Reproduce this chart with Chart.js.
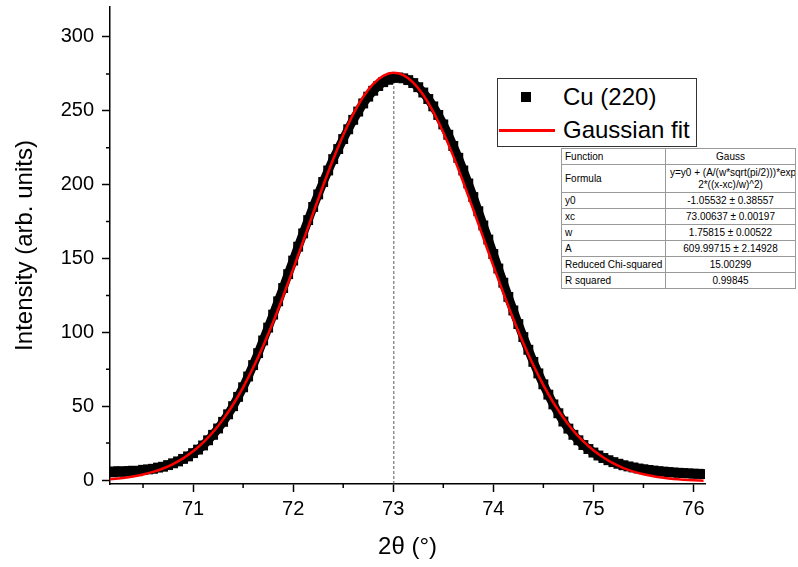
<!DOCTYPE html>
<html>
<head>
<meta charset="utf-8">
<script src="https://cdn.jsdelivr.net/npm/chart.js@4.4.0/dist/chart.umd.min.js"></script>
<style>
  body { margin: 0; background: #fff; }
  #wrap { position: relative; width: 798px; height: 567px; font-family: "Liberation Sans", Arial, sans-serif; }
  #legendBox { position: absolute; left: 497px; top: 78px; width: 200px; height: 69px; box-sizing: border-box; border: 1px solid #333; background: #fff; }
  #legendBox .txt { position: absolute; left: 65px; font-size: 24px; line-height: 28px; color: #000; white-space: nowrap; }
  #dataSwatch { position: absolute; left: 23px; top: 13px; width: 10px; height: 10px; }
  #fitSwatch { position: absolute; left: 1px; top: 50px; width: 56px; height: 2.5px; }
  #fitTable { position: absolute; left: 561px; top: 148px; width: 234px; border-collapse: collapse; font-size: 10px; color: #000; background: #fff; table-layout: fixed; border: 1px solid #333; }
  #fitTable td { border: 1px solid #9a9a9a; padding: 0 3px; height: 15px; line-height: 12px; overflow: hidden; white-space: nowrap; }
  #fitTable td.val { text-align: center; }
  #fitTable tr.tall td { height: 27px; }
  #fitTable td .l1 { display: block; text-align: left; padding-left: 1px; }
  #fitTable td .l2 { display: block; text-align: center; }
</style>
</head>
<body>
<div id="wrap">
  <canvas id="myChart" width="798" height="567"></canvas>
  <div id="legendBox">
    <span id="dataSwatch"></span><span class="txt" style="top:4px">Cu (220)</span>
    <span id="fitSwatch"></span><span class="txt" style="top:37px">Gaussian fit</span>
  </div>
  <table id="fitTable"></table>
</div>
<script>
// measured XRD points, Cu (220) reflection
const twoTheta = [70.15, 70.2, 70.25, 70.3, 70.35, 70.4, 70.45, 70.5, 70.55, 70.6, 70.65, 70.7, 70.75, 70.8, 70.85, 70.9, 70.95,
  71, 71.05, 71.1, 71.15, 71.2, 71.25, 71.3, 71.35, 71.4, 71.45, 71.5, 71.55, 71.6, 71.65, 71.7, 71.75, 71.8, 71.85, 71.9, 71.95,
  72, 72.05, 72.1, 72.15, 72.2, 72.25, 72.3, 72.35, 72.4, 72.45, 72.5, 72.55, 72.6, 72.65, 72.7, 72.75, 72.8, 72.85, 72.9, 72.95,
  73, 73.05, 73.1, 73.15, 73.2, 73.25, 73.3, 73.35, 73.4, 73.45, 73.5, 73.55, 73.6, 73.65, 73.7, 73.75, 73.8, 73.85, 73.9, 73.95,
  74, 74.05, 74.1, 74.15, 74.2, 74.25, 74.3, 74.35, 74.4, 74.45, 74.5, 74.55, 74.6, 74.65, 74.7, 74.75, 74.8, 74.85, 74.9, 74.95,
  75, 75.05, 75.1, 75.15, 75.2, 75.25, 75.3, 75.35, 75.4, 75.45, 75.5, 75.55, 75.6, 75.65, 75.7, 75.75, 75.8, 75.85, 75.9, 75.95,
  76, 76.05, 76.1]
const cuIntensity = [5.8, 5.2, 6.0, 5.5, 6.1, 6.3, 6.0, 6.9, 7.2, 7.6, 8.4, 9.0, 10.1, 11.3, 12.6, 14.3, 16.0,
  18.2, 20.6, 23.4, 26.9, 30.6, 34.9, 39.4, 44.5, 50.0, 56.3, 62.8, 70.1, 77.8, 85.9, 94.5, 103.2, 112.0, 121.0, 130.0, 139.4,
  148.6, 158.0, 167.0, 176.0, 184.9, 193.4, 201.8, 209.6, 217.3, 224.1, 230.9, 237.5, 243.9, 249.5, 255.0, 259.6, 263.6, 266.8, 269.4, 271.0,
  272.3, 272.6, 272.0, 270.8, 268.8, 266.0, 262.4, 258.0, 253.0, 247.2, 240.8, 233.8, 226.2, 218.2, 209.6, 200.8, 191.6, 182.0, 172.4, 162.8,
  153.0, 143.2, 133.6, 124.0, 114.8, 105.6, 96.8, 88.2, 80.0, 72.2, 64.8, 57.8, 51.2, 45.2, 39.6, 34.8, 30.6, 26.9, 23.7, 21.0,
  18.6, 16.6, 14.9, 13.4, 12.1, 11.0, 10.0, 9.2, 8.5, 7.8, 7.3, 6.8, 6.4, 6.0, 5.7, 5.4, 5.1, 4.9, 4.7, 4.5,
  4.3, 4.2, 4.0]

// gaussian fit curve
const fitTwoTheta = [70.1, 70.2, 70.3, 70.4, 70.5, 70.6, 70.7, 70.8, 70.9, 71, 71.1, 71.2, 71.3, 71.4, 71.5, 71.6, 71.7, 71.8, 71.9,
  72, 72.1, 72.2, 72.3, 72.4, 72.5, 72.6, 72.7, 72.8, 72.9, 73, 73.1, 73.2, 73.3, 73.4, 73.5, 73.6, 73.7, 73.8, 73.9,
  74, 74.1, 74.2, 74.3, 74.4, 74.5, 74.6, 74.7, 74.8, 74.9, 75, 75.1, 75.2, 75.3, 75.4, 75.5, 75.6, 75.7, 75.8, 75.9, 76, 76.1]
const fitIntensity = [0.12, 0.64, 1.37, 2.37, 3.71, 5.49, 7.82, 10.83, 14.64, 19.44, 25.33, 32.49, 41.07, 51.12, 62.75, 75.98, 90.76, 106.96, 124.4,
  142.8, 161.7, 180.8, 199.4, 217.2, 233.5, 247.8, 259.5, 268.2, 273.7, 275.7, 274.2, 269.1, 260.7, 249.3, 235.3, 219.3, 201.6, 183.0, 164.0,
  145.0, 126.6, 109.0, 92.6, 77.7, 64.2, 52.4, 42.2, 33.4, 26.1, 20.1, 15.2, 11.2, 8.1, 5.7, 3.9, 2.5, 1.5, 0.7, 0.17, -0.22, -0.49]

// dashed marker at the peak centre
const peakLineX = [73.006, 73.006]
const peakLineY = [-2.7, 275.7]

const xTicks = [71, 72, 73, 74, 75, 76]
const xMinorTicks = [70.5, 71.5, 72.5, 73.5, 74.5, 75.5]
const yTicks = [0, 50, 100, 150, 200, 250, 300]
const yMinorTicks = [25, 75, 125, 175, 225, 275]

const tableLabels = ["Function", "Formula", "y0", "xc", "w", "A", "Reduced Chi-squared", "R squared"]
const tableValues = ["Gauss", ["y=y0 + (A/(w*sqrt(pi/2)))*exp(-", "2*((x-xc)/w)^2)"], "-1.05532 ± 0.38557", "73.00637 ± 0.00197",
  "1.75815 ± 0.00522", "609.99715 ± 2.14928", "15.00299", "0.99845"]

const dataColor = "#000000"
const fitColor = "#ff0000"
const fontName = "'Liberation Sans', Arial, sans-serif"

function toPoints(xs, ys) {
    return xs.map((x, i) => ({ x: x, y: ys[i] }))
}

// legend + table as html on top of the canvas
document.getElementById("dataSwatch").style.background = dataColor
document.getElementById("fitSwatch").style.background = fitColor
const table = document.getElementById("fitTable")
table.innerHTML = '<colgroup><col style="width:104px"><col style="width:130px"></colgroup>' +
    tableLabels.map((label, i) => {
        const value = tableValues[i]
        if (Array.isArray(value)) {
            return `<tr class="tall"><td>${label}</td><td class="val"><span class="l1">${value[0]}</span><span class="l2">${value[1]}</span></td></tr>`
        }
        return `<tr><td>${label}</td><td class="val">${value}</td></tr>`
    }).join("")

// short minor ticks, drawn with the chart's own scales
const minorTicks = {
    id: "minorTicks",
    afterDraw(chart) {
        const ctx = chart.ctx
        const xs = chart.scales.x
        const ys = chart.scales.y
        ctx.save()
        ctx.strokeStyle = "#000"
        ctx.lineWidth = 1.5
        ctx.beginPath()
        xMinorTicks.forEach((v) => {
            const px = xs.getPixelForValue(v)
            ctx.moveTo(px, xs.top)
            ctx.lineTo(px, xs.top + 4)
        })
        yMinorTicks.forEach((v) => {
            const py = ys.getPixelForValue(v)
            ctx.moveTo(ys.right, py)
            ctx.lineTo(ys.right - 4, py)
        })
        ctx.stroke()
        ctx.restore()
    }
}

const config = {
    type: "scatter",
    data: {
        datasets: [
            {
                label: "Gaussian fit",
                data: toPoints(fitTwoTheta, fitIntensity),
                showLine: true,
                borderColor: fitColor,
                borderWidth: 2.5,
                pointRadius: 0,
                cubicInterpolationMode: "monotone",
                order: 0
            },
            {
                label: "Cu (220)",
                data: toPoints(twoTheta, cuIntensity),
                showLine: true,
                borderColor: dataColor,
                backgroundColor: dataColor,
                borderWidth: 9,
                pointStyle: "rect",
                pointRadius: 7,
                pointBorderWidth: 0,
                order: 1
            },
            {
                label: "peak",
                data: toPoints(peakLineX, peakLineY),
                showLine: true,
                borderColor: "#555",
                borderWidth: 1,
                borderDash: [3, 2],
                pointRadius: 0,
                order: 2
            }
        ]
    },
    options: {
        responsive: false,
        devicePixelRatio: 1,
        animation: false,
        layout: { padding: { top: 5, right: 93, left: 0, bottom: 0 } },
        plugins: { legend: { display: false }, tooltip: { enabled: false } },
        scales: {
            x: {
                type: "linear",
                position: "bottom",
                min: 70.17,
                max: 76.115,
                afterBuildTicks: (s) => { s.ticks = xTicks.map((v) => ({ value: v })) },
                afterFit: (s) => { s.height = 83; s.paddingLeft = 0; s.paddingRight = 0 },
                ticks: { color: "#000", font: { family: fontName, size: 20 }, padding: 5, maxRotation: 0, autoSkip: false },
                grid: { drawOnChartArea: false, drawTicks: true, tickLength: 8, tickWidth: 1.5, tickColor: "#000" },
                border: { display: true, color: "#000", width: 1.5 },
                title: { display: true, text: "2θ (°)", color: "#000", font: { family: fontName, size: 24 }, padding: { top: 0, bottom: 5 } }
            },
            y: {
                type: "linear",
                position: "left",
                min: -2.7,
                max: 320.3,
                afterBuildTicks: (s) => { s.ticks = yTicks.map((v) => ({ value: v })) },
                afterFit: (s) => { s.width = 110; s.paddingTop = 0; s.paddingBottom = 0 },
                ticks: { color: "#000", font: { family: fontName, size: 20 }, padding: 8, autoSkip: false },
                grid: { drawOnChartArea: false, drawTicks: true, tickLength: 8, tickWidth: 1.5, tickColor: "#000" },
                border: { display: true, color: "#000", width: 1.5 },
                title: { display: true, text: "Intensity (arb. units)", color: "#000", font: { family: fontName, size: 24 }, padding: { top: 11, bottom: 0 } }
            }
        }
    },
    plugins: [minorTicks]
}

const chartDOM = document.getElementById("myChart")
const myChart = new Chart(chartDOM, config)
</script>
</body>
</html>
